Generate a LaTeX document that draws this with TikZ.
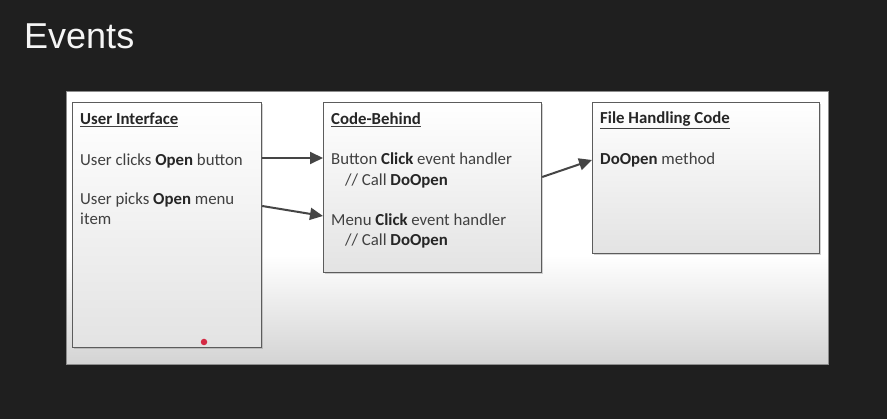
\documentclass[tikz,border=0pt]{standalone}
\usepackage{fontspec}
\setmainfont{Carlito}
\newfontfamily\titlefont{Liberation Sans}
\usetikzlibrary{arrows.meta,shadows}
\definecolor{slidebg}{HTML}{1F1F1F}
\definecolor{boxline}{HTML}{5C5C5C}
\definecolor{ink}{HTML}{404040}
\definecolor{arrowgray}{HTML}{454545}
\definecolor{dotred}{HTML}{D42A44}
\newcommand{\hd}[1]{\underline{\textbf{\color{black!85}#1}}}
\newcommand{\kw}[1]{\textbf{\color{black!85}#1}}

\begin{document}
\begin{tikzpicture}[x=1pt,y=-1pt,>={Triangle[length=13pt,width=12pt]},
    box/.style={draw=boxline,line width=1.2pt,top color=white,bottom color=black!11,
      drop shadow={shadow xshift=1.5pt,shadow yshift=-1.5pt,opacity=0.35},
      anchor=north west,inner sep=0pt},
    txt/.style={anchor=base west,inner sep=0pt,text=ink,font=\fontsize{16.8}{20}\selectfont},
    flow/.style={->,draw=arrowgray,line width=2pt}]
    \useasboundingbox (0,0) rectangle (887,419);
    \fill[slidebg] (0,0) rectangle (887,419);
    \fill[white] (66,91) rectangle (828,364);
    \shade[top color=white,bottom color=black!17] (66,255) rectangle (828,364);
    \draw[black!45,line width=0.8pt] (66,91) rectangle (828,364);

    \node[anchor=base west,inner sep=0pt,text=white!96!black,
      font=\titlefont\fontsize{36}{40}\selectfont] (title) at (24,49) {Events};

    \node[box,minimum width=189pt,minimum height=245pt] (ui) at (72,102) {};
    \node[box,minimum width=218pt,minimum height=170pt] (cb) at (323,102) {};
    \node[box,minimum width=227pt,minimum height=151pt] (fh) at (592,102) {};

    \node[txt] (uihead) at (80,125) {\hd{User Interface}};
    \node[txt] (uiclick) at (80,166) {User clicks \kw{Open} button};
    \node[txt] (uipick) at (80,205) {User picks \kw{Open} menu};
    \node[txt] (uiitem) at (80,225) {item};

    \node[txt] (cbhead) at (331,124.5) {\hd{Code-Behind}};
    \node[txt] (cbbtn) at (331,165) {Button \kw{Click} event handler};
    \node[txt] (cbcall1) at (345,185.5) {// Call \kw{DoOpen}};
    \node[txt] (cbmenu) at (331,225.5) {Menu \kw{Click} event handler};
    \node[txt] (cbcall2) at (345,246) {// Call \kw{DoOpen}};

    \node[txt] (fhhead) at (600,124) {\hd{File Handling Code}};
    \node[txt] (fhopen) at (600,165) {\kw{DoOpen} method};

    \node[circle,fill=dotred,inner sep=0pt,minimum size=6.5pt] (dot) at (204,342) {};

    \path
    (ui.east |- 0,158) edge[flow] (cb.west |- 0,158)
    (ui.east |- 0,206) edge[flow] (cb.west |- 0,216)
    (cb.east |- 0,177) edge[flow] (fh.west |- 0,160)
    ;
\end{tikzpicture}
\end{document}
